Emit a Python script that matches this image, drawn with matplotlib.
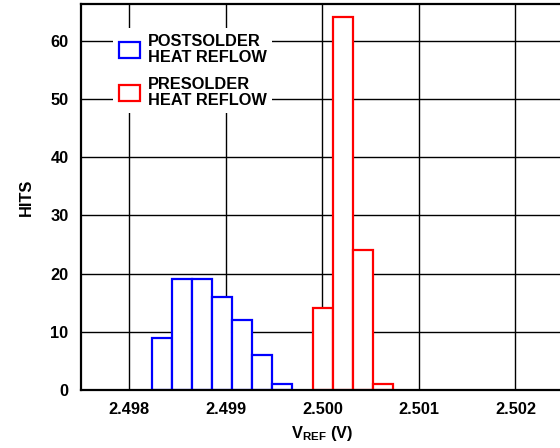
import numpy as np
import matplotlib
matplotlib.use("Agg")
import matplotlib.pyplot as plt
from matplotlib.patches import Rectangle

plt.rcParams['font.family'] = ['Liberation Sans', 'DejaVu Sans']
plt.rcParams['font.weight'] = 'bold'
plt.rcParams['mathtext.fontset'] = 'custom'
plt.rcParams['mathtext.rm'] = 'Liberation Sans:bold'
plt.rcParams['mathtext.bf'] = 'Liberation Sans:bold'
plt.rcParams['mathtext.it'] = 'Liberation Sans:bold'

# histogram data (bin left edges in V, counts)
bin_width = 0.000207
post_start = 2.49824
post_hits = [9, 19, 19, 16, 12, 6, 1]
pre_start = 2.49990
pre_hits = [14, 64, 24, 1]

xticks = [2.498, 2.499, 2.500, 2.501, 2.502]
yticks = [0, 10, 20, 30, 40, 50, 60]

post_edges = post_start + bin_width * np.arange(len(post_hits))
pre_edges = pre_start + bin_width * np.arange(len(pre_hits))

fs = 11.8

fig = plt.figure(figsize=(5.6, 4.48), dpi=100)
ax = fig.add_axes([0.1446, 0.1295, 0.862, 0.8615])

ax.bar(post_edges, post_hits, width=bin_width, align='edge',
       facecolor='white', edgecolor='#0000ff', linewidth=1.6, zorder=3)
ax.bar(pre_edges, pre_hits, width=bin_width, align='edge',
       facecolor='white', edgecolor='#ff0000', linewidth=1.6, zorder=3)

ax.set_xlim(2.4975, 2.5025)
ax.set_ylim(0, 66.3)
ax.set_xticks(xticks)
ax.set_xticklabels(['%.3f' % v for v in xticks])
ax.set_yticks(yticks)
ax.tick_params(length=0, labelsize=fs, pad=9)
ax.tick_params(axis='y', pad=9)
ax.grid(True, color='black', linewidth=1.0, zorder=0)
ax.set_axisbelow(True)
for s in ax.spines.values():
    s.set_linewidth(1.6)
    s.set_zorder(4)

ax.set_ylabel('HITS', fontsize=fs, fontweight='bold', labelpad=12)
ax.set_xlabel(r'$\mathbf{V_{REF}}$ (V)', fontsize=fs, fontweight='bold', labelpad=5)

handles = [Rectangle((0, 0), 1, 1, facecolor='white', edgecolor='#0000ff', linewidth=1.6),
           Rectangle((0, 0), 1, 1, facecolor='white', edgecolor='#ff0000', linewidth=1.6)]
leg = ax.legend(handles, ['POSTSOLDER\nHEAT REFLOW', 'PRESOLDER\nHEAT REFLOW'],
                loc='upper left', bbox_to_anchor=(0.05, 0.958), frameon=True,
                framealpha=1, edgecolor='none', fancybox=False, fontsize=fs,
                handlelength=1.3, handleheight=1.15, handletextpad=0.45,
                labelspacing=0.75, borderpad=0.35)
for t in leg.get_texts():
    t.set_linespacing(1.05)
leg.set_zorder(5)

fig.savefig('out.png', dpi=100)
